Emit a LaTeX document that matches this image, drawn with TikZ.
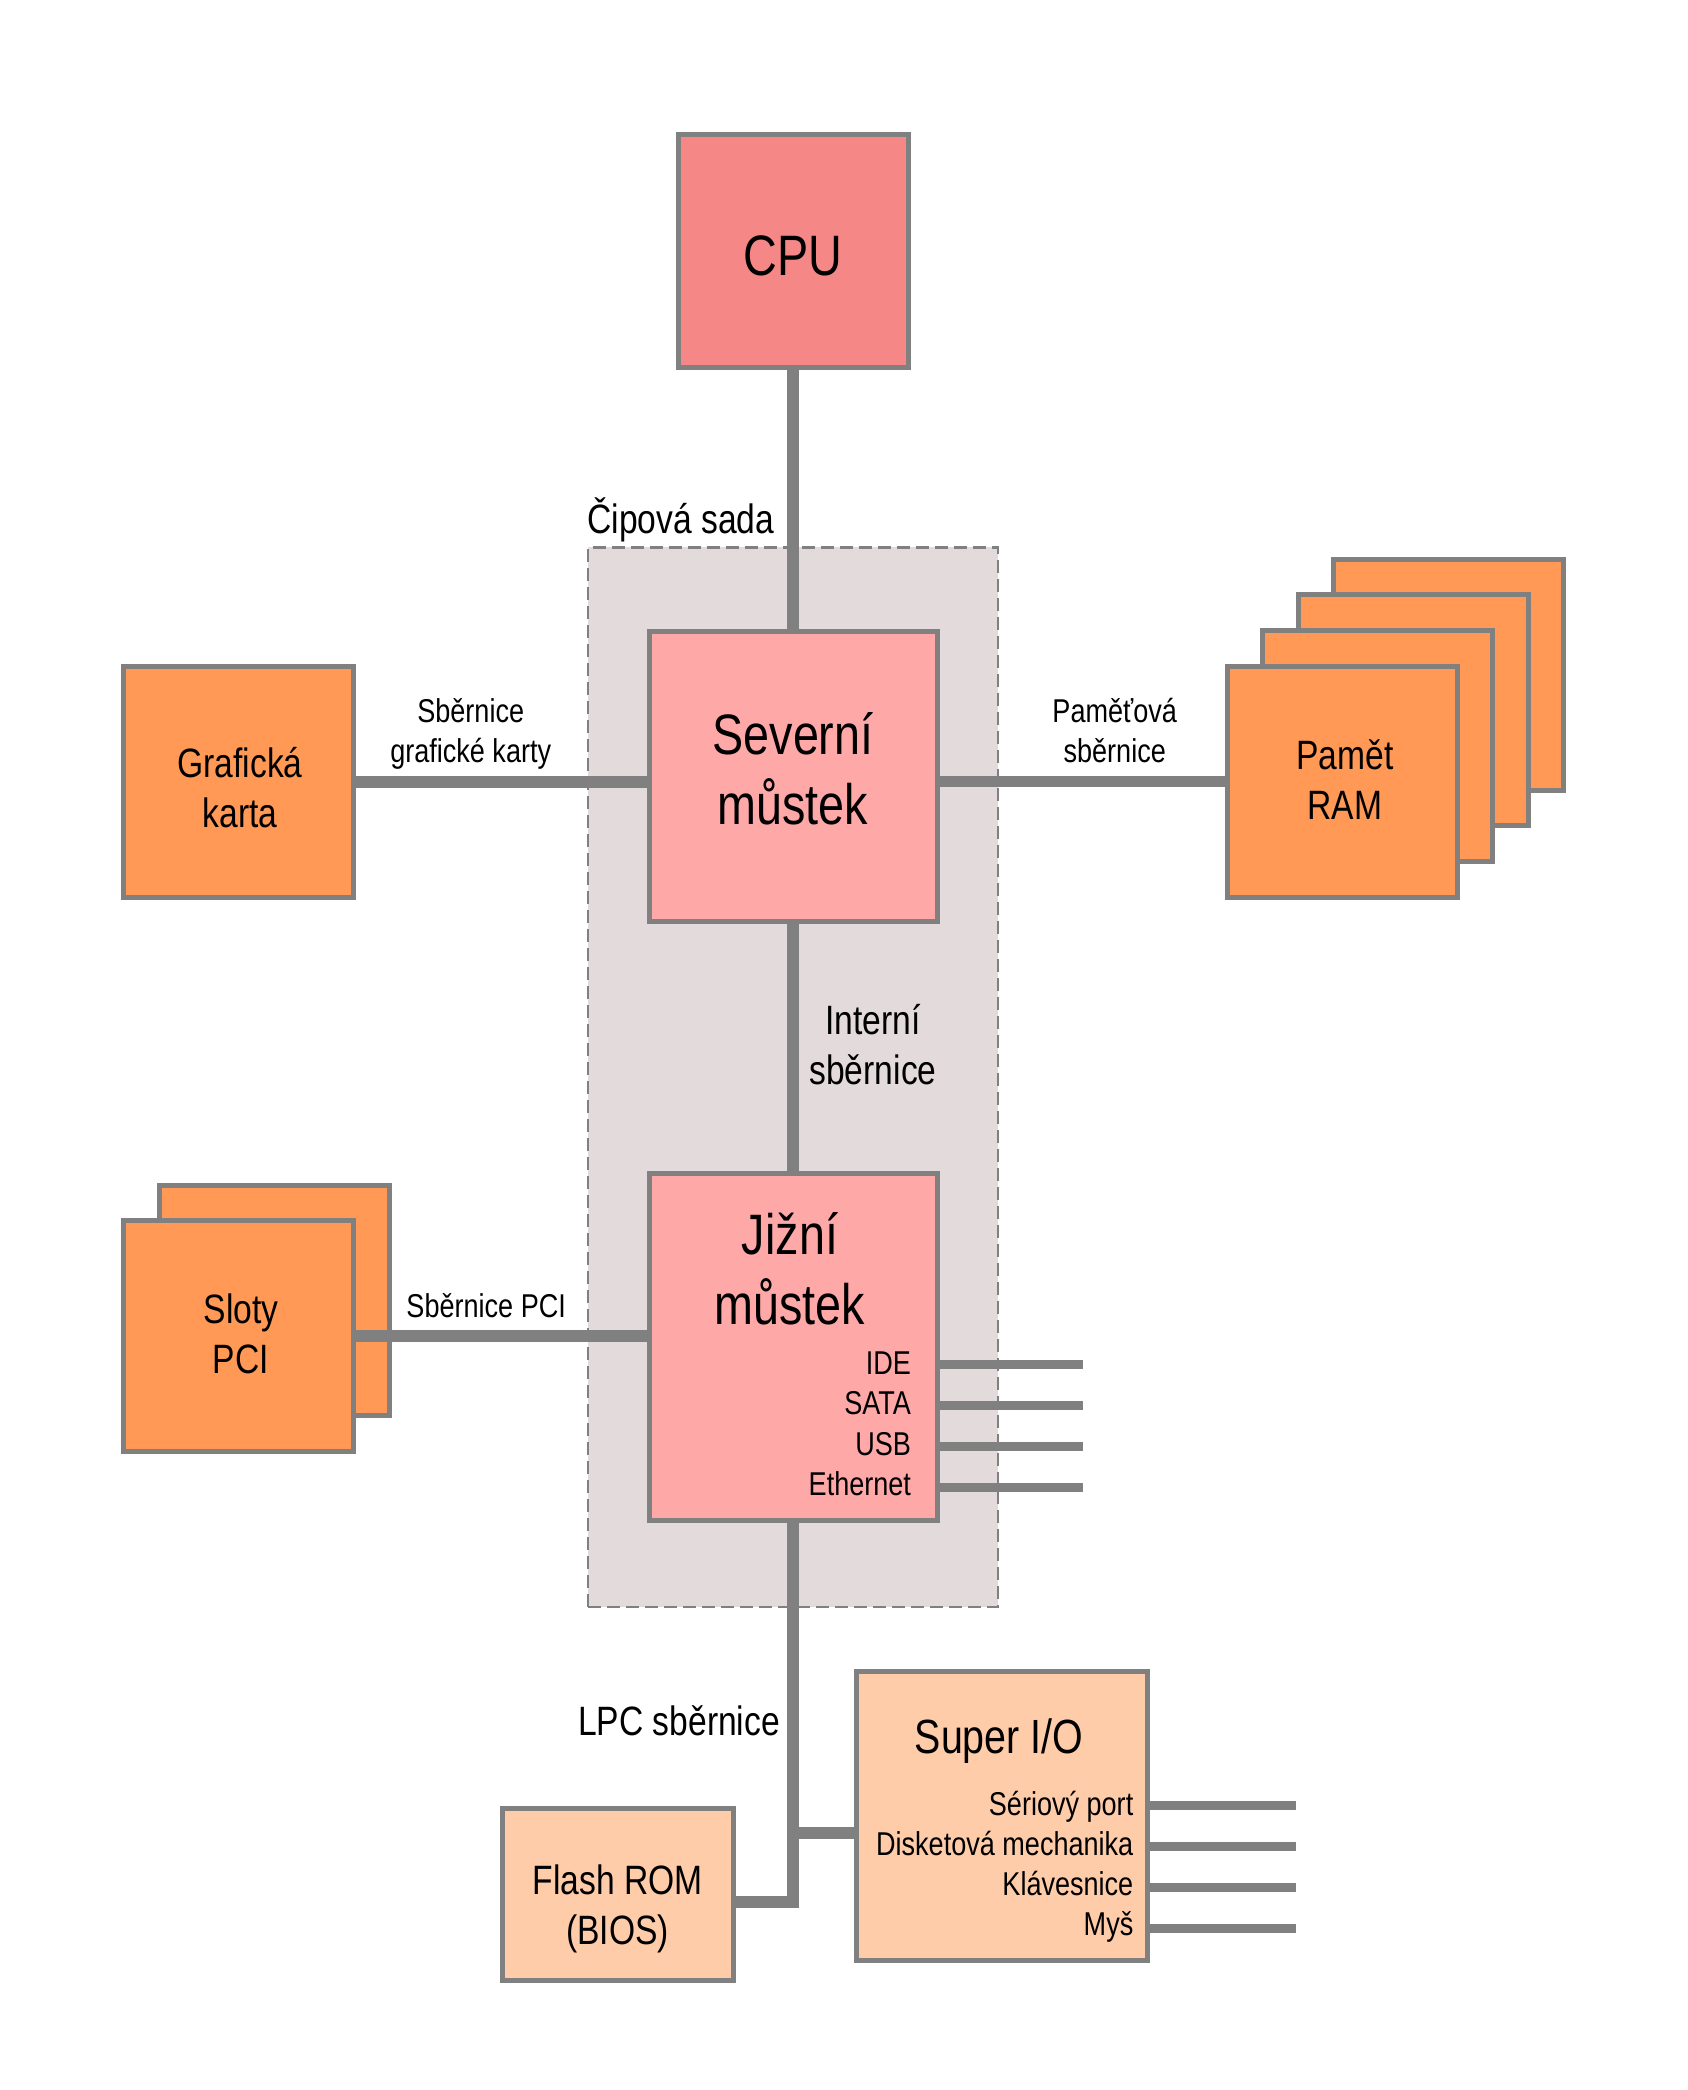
\documentclass[tikz,border=0pt]{standalone}
\usepackage{fontspec}
\setmainfont{Liberation Sans}[FakeStretch=0.82]
\definecolor{edge}{HTML}{808080}
\definecolor{cpuc}{HTML}{F58787}
\definecolor{bridgec}{HTML}{FFA8A8}
\definecolor{devc}{HTML}{FF9955}
\definecolor{ioc}{HTML}{FFCCAA}
\definecolor{chipc}{HTML}{E3DBDB}
\tikzset{
  boxline/.style={draw=edge,line width=5pt,inner sep=0pt,outer sep=0pt},
  cpubox/.style={boxline,fill=cpuc},
  bridge/.style={boxline,fill=bridgec},
  dev/.style={boxline,fill=devc},
  iobox/.style={boxline,fill=ioc},
  chipset/.style={draw=edge,fill=chipc,line width=2.7pt,dash pattern=on 13pt off 6pt,inner sep=0pt,outer sep=0pt},
  bus/.style={draw=edge,line width=11.7pt,line join=miter},
  port/.style={draw=edge,line width=9pt},
  bigt/.style={font=\fontsize{57}{70}\selectfont},
  siot/.style={font=\fontsize{48}{58}\selectfont},
  midt/.style={font=\fontsize{41}{50}\selectfont},
  smlt/.style={font=\fontsize{33}{40}\selectfont},
  lbl/.style={inner sep=0pt,outer sep=0pt,align=center,anchor=base},
  rlbl/.style={inner sep=0pt,outer sep=0pt,anchor=base east},
}
\begin{document}
\begin{tikzpicture}[x=1pt,y=-1pt]
\useasboundingbox (0,0) rectangle (1688,2090);
\fill[white] (0,0) rectangle (1688,2090);

% chipset background
\node[chipset,minimum width=410pt,minimum height=1059.7pt] (chip) at (793,1077.2) {};
\node[inner sep=0pt,anchor=base west,midt] (chiplbl) at (587.3,533.3) {Čipová sada};

% boxes
\node[cpubox,minimum width=230pt,minimum height=232pt] (cpu) at (793,251) {};
\node[bridge,minimum width=288pt,minimum height=290pt] (nb) at (793,776) {};
\node[bridge,minimum width=288pt,minimum height=347pt] (sb) at (793,1347) {};
\node[dev,minimum width=230pt,minimum height=230.5pt] (gk) at (238.5,782.2) {};

\node[dev,minimum width=230pt,minimum height=231pt] (ram4) at (1448.5,674.5) {};
\node[dev,minimum width=230pt,minimum height=231pt] (ram3) at (1413,710) {};
\node[dev,minimum width=230pt,minimum height=231pt] (ram2) at (1377.5,746) {};
\node[dev,minimum width=230pt,minimum height=231pt] (ram1) at (1342,781.5) {};

\node[dev,minimum width=230pt,minimum height=230.5pt] (pci2) at (274.5,1300.7) {};
\node[dev,minimum width=230pt,minimum height=230.5pt] (pci1) at (238.5,1336.2) {};

\node[iobox,minimum width=231pt,minimum height=171.5pt] (flash) at (617.5,1894.7) {};
\node[iobox,minimum width=291pt,minimum height=289pt] (sio) at (1002,1815.5) {};

% connectors
\draw[bus] (cpu.south) -- (nb.north);
\draw[bus] (nb.south) -- (sb.north);
\draw[bus] (gk.east) -- (gk.east -| nb.west);
\draw[bus] (ram1.west -| nb.east) -- (ram1.west);
\draw[bus] (pci1.east) -- (pci1.east -| sb.west);
\coordinate (fj) at (793,1901.7);
\coordinate (sj) at (793,1833.3);
\draw[bus] (sb.south) -- (fj) -- (fj -| flash.east);
\draw[bus] (sj) -- (sj -| sio.west);

\coordinate (pide) at (1083,1364);
\coordinate (psata) at (1083,1405);
\coordinate (pusb) at (1083,1446);
\coordinate (peth) at (1083,1487);
\foreach \p in {pide,psata,pusb,peth}
  \draw[port] (\p -| sb.east) -- (\p);

\coordinate (pser) at (1296,1805);
\coordinate (pdisk) at (1296,1846.5);
\coordinate (pkbd) at (1296,1887.5);
\coordinate (pmys) at (1296,1928.3);
\foreach \p in {pser,pdisk,pkbd,pmys}
  \draw[port] (\p -| sio.east) -- (\p);

% texts (anchor base = baseline of the last line)
\node[lbl,bigt] (tcpu) at (792.7,275) {CPU};
\node[lbl,bigt] (tnb) at (793,824) {Severní\\můstek};
\node[lbl,bigt] (tsb) at (790,1324) {Jižní\\můstek};
\node[lbl,midt] (tgk) at (240,827.7) {Grafická\\karta};
\node[lbl,smlt] (tagp) at (470.7,762.3) {Sběrnice\\grafické karty};
\node[lbl,smlt] (tmem) at (1114.7,762.7) {Paměťová\\sběrnice};
\node[lbl,midt] (tram) at (1345,819.3) {Pamět\\RAM};
\node[lbl,midt] (tint) at (873,1084) {Interní\\sběrnice};
\node[lbl,midt] (tpci) at (241,1373.3) {Sloty\\PCI};
\node[lbl,smlt] (tpcib) at (486.2,1317.3) {Sběrnice PCI};
\node[rlbl,smlt] (tide) at (911,1374.3) {IDE};
\node[rlbl,smlt] (tsata) at (911,1414.7) {SATA};
\node[rlbl,smlt] (tusb) at (911,1455) {USB};
\node[rlbl,smlt] (teth) at (911,1495) {Ethernet};
\node[rlbl,midt] (tlpc) at (780,1735.7) {LPC sběrnice};
\node[lbl,midt] (tflash) at (617.7,1944) {Flash ROM\\(BIOS)};
\node[lbl,siot] (tsio) at (999,1753.3) {Super I/O};
\node[rlbl,smlt] (tser) at (1133.3,1815) {Sériový port};
\node[rlbl,smlt] (tdisk) at (1133.3,1855) {Disketová mechanika};
\node[rlbl,smlt] (tkbd) at (1133.3,1895) {Klávesnice};
\node[rlbl,smlt] (tmys) at (1133.3,1935) {Myš};
\end{tikzpicture}
\end{document}
